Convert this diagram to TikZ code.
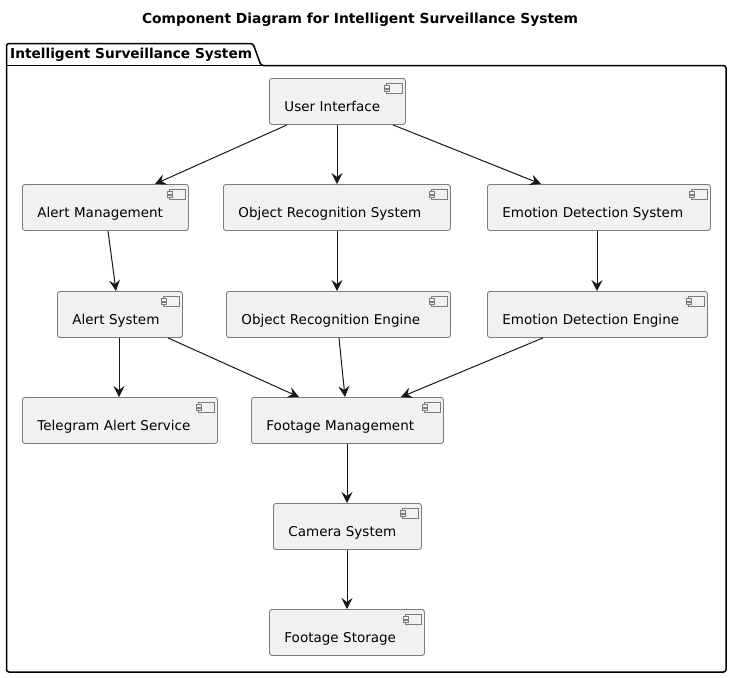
\documentclass[tikz,border=0pt]{standalone}
\usepackage{fontspec}
\setmainfont{DejaVu Sans}
\usetikzlibrary{arrows.meta,calc}
\definecolor{compfill}{HTML}{F1F1F1}
\definecolor{compline}{HTML}{7C7C7C}
\definecolor{flowline}{HTML}{181818}
\tikzset{
  comp/.style={draw=compline, fill=compfill, line width=0.9pt, rounded corners=2.5pt,
    anchor=north west, align=left, inner xsep=15pt, inner ysep=4pt, text height=29pt,
    text depth=9pt, text width=#1-30, font=\fontsize{13.5}{17}\selectfont},
  flow/.style={draw=flowline, line width=1pt, -{Stealth[length=11pt,width=11pt,inset=4pt]}},
  pack/.style={draw=black, line width=1.5pt, rounded corners=2.5pt},
  icon/.style={draw=compline, line width=0.8pt, fill=compfill},
  heading/.style={font=\bfseries\fontsize{13.7}{17}\selectfont, inner sep=0pt}
}

\begin{document}
\begin{tikzpicture}[x=1pt,y=-1pt]
  \useasboundingbox (0,0) rectangle (732,678);
  % package outline
  \draw[pack] (6.5,65.5) -- (6.5,43.5) -- (253,43.5) -- (261,65.5) -- (726,65.5)
    -- (726,672) -- (6.5,672) -- cycle;
  \draw[pack, rounded corners=0pt] (6.5,65.5) -- (261,65.5);
  \node[heading, font=\bfseries\fontsize{13.82}{17}\selectfont, anchor=base] (title) at (360,23) {Component Diagram for Intelligent Surveillance System};
  \node[heading, anchor=base west] (packname) at (10,58) {Intelligent Surveillance System};

  % components
  \node[comp=136] (ui) at (269,78) {User Interface};
  \node[comp=166] (am) at (22,184) {Alert Management};
  \node[comp=227] (ors) at (223,184) {Object Recognition System};
  \node[comp=223] (eds) at (487,184) {Emotion Detection System};
  \node[comp=125] (as) at (57,291) {Alert System};
  \node[comp=224] (ore) at (226,291) {Object Recognition Engine};
  \node[comp=220] (ede) at (487,291) {Emotion Detection Engine};
  \node[comp=195] (tg) at (22,397) {Telegram Alert Service};
  \node[comp=192] (fm) at (251,397) {Footage Management};
  \node[comp=148] (cam) at (273,503) {Camera System};
  \node[comp=155] (fs) at (269,609) {Footage Storage};

  % component icons
  \foreach \n in {ui,am,ors,eds,as,ore,ede,tg,fm,cam,fs} {
    \begin{scope}[shift={(\n.north east)}]
      \draw[icon] (-20,5.5) rectangle (-4,15.5);
      \draw[icon] (-22,7.5) rectangle (-17,10);
      \draw[icon] (-22,11) rectangle (-17,13.5);
    \end{scope}
  }

  % connectors
  \draw[flow] ([xshift=18pt]ui.south west) -- ([xshift=133pt]am.north west);
  \draw[flow] ([xshift=68pt]ui.south west) -- ([xshift=114pt]ors.north west);
  \draw[flow] ([xshift=124pt]ui.south west) -- ([xshift=54pt]eds.north west);
  \draw[flow] ([xshift=86pt]am.south west) -- ([xshift=59pt]as.north west);
  \draw[flow] ([xshift=114pt]ors.south west) -- ([xshift=111pt]ore.north west);
  \draw[flow] ([xshift=110pt]eds.south west) -- ([xshift=110pt]ede.north west);
  \draw[flow] ([xshift=62pt]as.south west) -- ([xshift=97pt]tg.north west);
  \draw[flow] ([xshift=111pt]as.south west) -- ([xshift=48pt]fm.north west);
  \draw[flow] ([xshift=113pt]ore.south west) -- ([xshift=94pt]fm.north west);
  \draw[flow] ([xshift=56pt]ede.south west) -- ([xshift=150pt]fm.north west);
  \draw[flow] ([xshift=96pt]fm.south west) -- ([xshift=74pt]cam.north west);
  \draw[flow] ([xshift=74pt]cam.south west) -- ([xshift=78pt]fs.north west);
\end{tikzpicture}
\end{document}
